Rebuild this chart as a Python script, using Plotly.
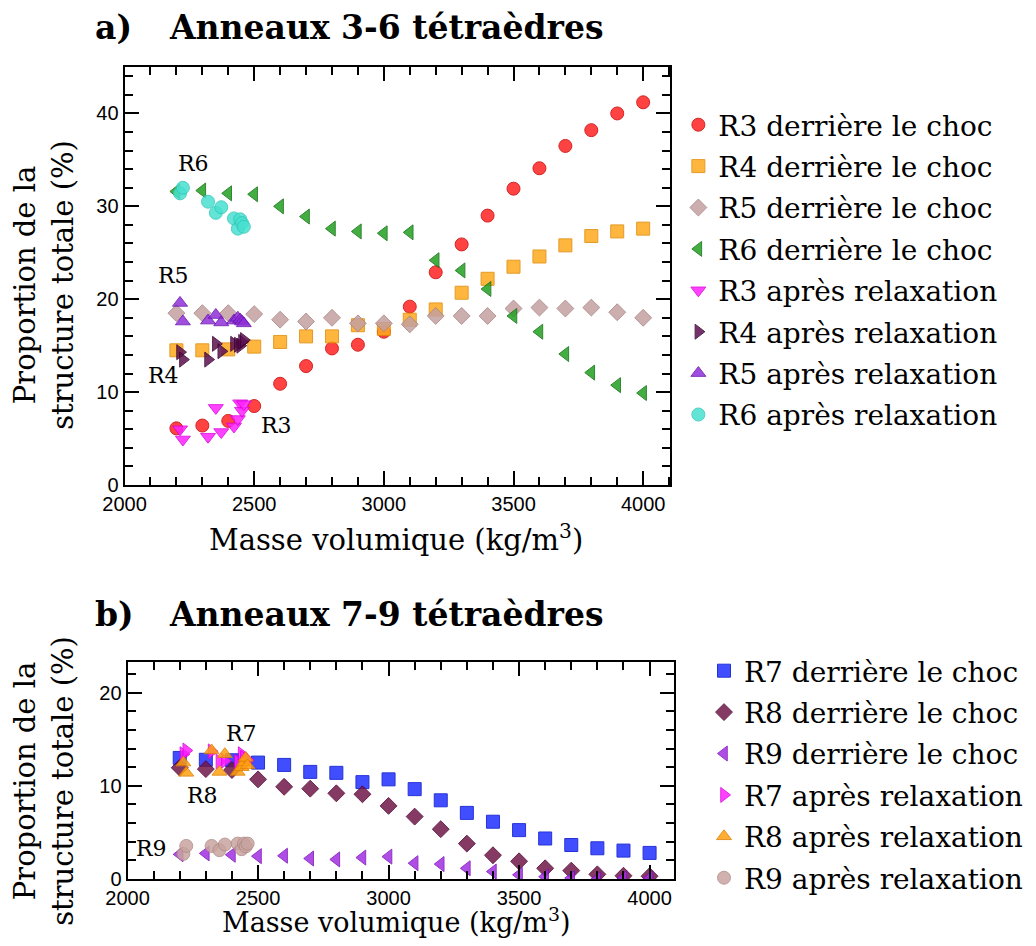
import plotly.graph_objects as go

# masse volumique (kg/m3)
rho_shock = [2200, 2300, 2400, 2500, 2600, 2700, 2800, 2900, 3000, 3100,
             3200, 3300, 3400, 3500, 3600, 3700, 3800, 3900, 4000]
rho_relax = [2214, 2225, 2322, 2352, 2373, 2422, 2437, 2446, 2453, 2460]

# anneaux 3-6
r3_shock = [6.1, 6.4, 6.9, 8.5, 10.9, 12.8, 14.7, 15.1, 16.5, 19.2, 22.9, 25.9, 29.0, 31.9, 34.1, 36.5, 38.2, 40.0, 41.2]
r4_shock = [14.5, 14.5, 14.6, 14.9, 15.4, 16.0, 16.0, 17.2, 16.8, 17.8, 18.9, 20.7, 22.2, 23.5, 24.6, 25.8, 26.8, 27.3, 27.6]
r5_shock = [18.5, 18.5, 18.5, 18.4, 17.8, 17.6, 18.0, 17.4, 17.4, 17.3, 18.2, 18.2, 18.2, 19.0, 19.1, 19.0, 19.1, 18.6, 18.0]
r6_shock = [31.6, 31.7, 31.4, 31.3, 30.0, 28.9, 27.6, 27.3, 27.1, 27.2, 24.2, 23.1, 21.1, 18.2, 16.5, 14.1, 12.1, 10.75, 9.9]
r3_relax = [6.0, 4.9, 5.2, 8.3, 5.7, 6.3, 7.1, 8.8, 8.0, 8.7]
r4_relax = [14.3, 13.5, 13.5, 15.2, 14.4, 15.2, 15.1, 15.0, 15.4, 15.6]
r5_relax = [19.6, 17.6, 17.7, 18.3, 17.5, 17.7, 18.0, 17.8, 17.6, 17.4]
r6_relax = [31.4, 32.0, 30.5, 29.3, 29.9, 28.7, 27.6, 28.6, 28.2, 27.8]

# anneaux 7-9
r7_shock = [13.0, 12.8, 12.75, 12.5, 12.25, 11.5, 11.4, 10.4, 10.7, 9.65, 8.45, 7.1, 6.15, 5.25, 4.35, 3.65, 3.3, 3.05, 2.8]
r8_shock = [11.95, 11.8, 11.7, 10.7, 9.9, 9.7, 9.2, 9.1, 7.85, 6.7, 5.35, 3.8, 2.55, 1.9, 1.15, 0.9, 0.5, 0.35, 0.3]
r9_shock = [2.65, 2.75, 2.6, 2.45, 2.5, 2.2, 2.1, 2.3, 2.4, 1.7, 1.6, 1.15, 0.8, 0.45, 0.25, 0.1, 0.0, 0.1, 0.1]
r7_relax = [13.4, 13.8, 13.7, 12.6, 12.7, 12.6, 13.4, 13.0, 12.5, 12.8]
r8_relax = [12.5, 11.4, 13.8, 11.5, 13.4, 11.5, 12.0, 12.5, 13.0, 12.2]
r9_relax = [2.7, 3.55, 3.55, 3.1, 3.7, 3.8, 3.2, 3.8, 3.5, 3.8]

SERIF = "DejaVu Serif"
SANS = "Liberation Sans"

fig = go.Figure()


def add(x, y, name, symbol, color, edge, axis, legend):
    fig.add_trace(go.Scatter(
        x=x, y=y, mode="markers", name=name,
        xaxis="x" if axis == 1 else "x2", yaxis="y" if axis == 1 else "y2",
        legend=legend, legendgroup=name,
        marker=dict(symbol=symbol, size=13, color=color, opacity=0.85,
                    line=dict(color=edge, width=1)),
    ))


add(rho_shock, r3_shock, "R3 derrière le choc", "circle", "#ff2222", "#cc0000", 1, "legend")
add(rho_shock, r4_shock, "R4 derrière le choc", "square", "#ffaa1e", "#e08a00", 1, "legend")
add(rho_shock, r5_shock, "R5 derrière le choc", "diamond", "#c4a0a0", "#a88484", 1, "legend")
add(rho_shock, r6_shock, "R6 derrière le choc", "triangle-left", "#22a022", "#0f700f", 1, "legend")
add(rho_relax, r3_relax, "R3 après relaxation", "triangle-down", "#ff22ff", "#dd00dd", 1, "legend")
add(rho_relax, r4_relax, "R4 après relaxation", "triangle-right", "#5c1050", "#3a0030", 1, "legend")
add(rho_relax, r5_relax, "R5 après relaxation", "triangle-up", "#9030d8", "#6a10b0", 1, "legend")
add(rho_relax, r6_relax, "R6 après relaxation", "circle", "#48e0d0", "#30c8b8", 1, "legend")

add(rho_shock, r7_shock, "R7 derrière le choc", "square", "#2030ff", "#0010d0", 2, "legend2")
add(rho_shock, r8_shock, "R8 derrière le choc", "diamond", "#701848", "#500030", 2, "legend2")
add(rho_shock, r9_shock, "R9 derrière le choc", "triangle-left", "#a030e0", "#8010c0", 2, "legend2")
add(rho_relax, r7_relax, "R7 après relaxation", "triangle-right", "#ff20ff", "#dd00dd", 2, "legend2")
add(rho_relax, r8_relax, "R8 après relaxation", "triangle-up", "#ffa010", "#e08000", 2, "legend2")
add(rho_relax, r9_relax, "R9 après relaxation", "circle", "#c8a4a0", "#b08c88", 2, "legend2")

# la page a une marge de 8 px autour du graphique
W, H = 1020, 930
OFF = 8


def px_x(p):
    return (p - OFF) / W


def px_y(p):
    return 1 - (p - OFF) / H


def axis(dom, rng, dtick, minor, anchor):
    return dict(
        domain=dom, range=rng, dtick=dtick, anchor=anchor, automargin=False,
        showline=True, linecolor="black", linewidth=2, mirror="allticks",
        ticks="inside", ticklen=14, tickwidth=2, tickcolor="black",
        minor=dict(dtick=minor, ticks="inside", ticklen=8, tickwidth=2, tickcolor="black"),
        showgrid=False, zeroline=False,
        tickfont=dict(family=SANS, size=20, color="black"),
    )


legend_style = dict(xanchor="left", yanchor="top",
                    font=dict(family=SERIF, size=28, color="black"),
                    tracegroupgap=2, itemwidth=30, bgcolor="rgba(0,0,0,0)")

fig.update_layout(
    width=W, height=H,
    margin=dict(l=0, r=0, t=0, b=0),
    paper_bgcolor="white", plot_bgcolor="white",
    xaxis=axis([px_x(125), px_x(673)], [2000, 4105], 500, 100, "y"),
    yaxis=axis([px_y(485), px_y(67)], [0, 45], 10, 2, "x"),
    xaxis2=axis([px_x(128), px_x(677)], [2000, 4095], 500, 100, "y2"),
    yaxis2=axis([px_y(879), px_y(662)], [0, 23.3], 10, 2, "x2"),
    legend=dict(x=px_x(681), y=px_y(100), **legend_style),
    legend2=dict(x=px_x(707), y=px_y(646), **legend_style),
    showlegend=True,
)

labels = [
    ("R6", 2265, 34.6, "x", "y"), ("R5", 2188, 22.6, "x", "y"),
    ("R4", 2150, 11.8, "x", "y"), ("R3", 2585, 6.45, "x", "y"),
    ("R7", 2438, 15.6, "x2", "y2"), ("R8", 2288, 9.0, "x2", "y2"),
    ("R9", 2091, 3.3, "x2", "y2"),
]
for t, lx, ly, xr, yr in labels:
    fig.add_annotation(text=t, x=lx, y=ly, xref=xr, yref=yr, showarrow=False,
                       font=dict(family=SERIF, size=22, color="black"))

# titres, axes
for txt, px, py, size, angle, anchor, vanchor in [
    ("<b>a)</b>", 93, 28, 33, 0, "left", "middle"),
    ("<b>Anneaux 3-6 tétraèdres</b>", 168, 28, 33, 0, "left", "middle"),
    ("<b>b)</b>", 93, 614, 33, 0, "left", "middle"),
    ("<b>Anneaux 7-9 tétraèdres</b>", 168, 614, 33, 0, "left", "middle"),
    ("Masse volumique (kg/m<sup>3</sup>)", 398, 538, 29, 0, "center", "middle"),
    ("Masse volumique (kg/m<sup>3</sup>)", 398, 940, 27, 0, "center", "bottom"),
    ("Proportion de la<br>structure totale (%)", 44, 285, 29, -90, "center", "middle"),
    ("Proportion de la<br>structure totale (%)", 44, 781, 29, -90, "center", "middle"),
]:
    fig.add_annotation(text=txt, x=px_x(px), y=px_y(py), xref="paper", yref="paper",
                       xanchor=anchor, yanchor=vanchor, showarrow=False, textangle=angle,
                       font=dict(family=SERIF, size=size, color="black"))

fig.write_html("out.html")
